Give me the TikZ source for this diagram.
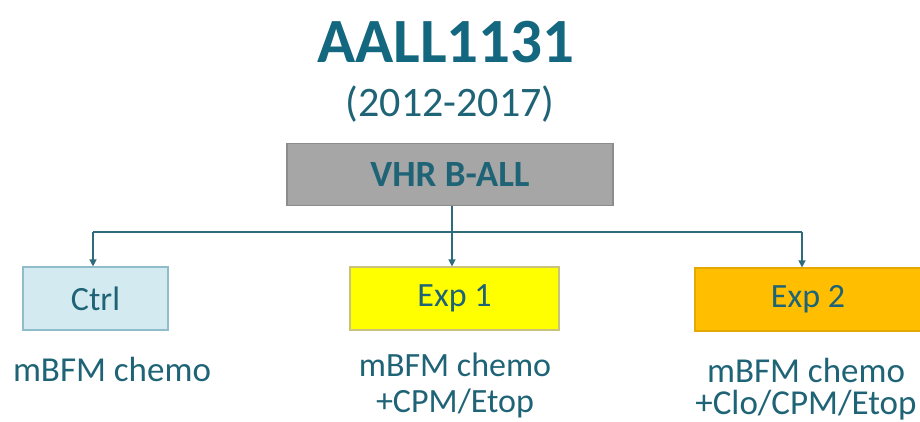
\documentclass[tikz,border=0pt]{standalone}
\usepackage{fontspec}
\setmainfont{Carlito}
\usetikzlibrary{arrows.meta}
\definecolor{tealtxt}{HTML}{1F6476}
\definecolor{titlecol}{HTML}{13677E}
\definecolor{linecol}{HTML}{2F6C7B}
\definecolor{ctrlfill}{HTML}{D4EAF1}
\definecolor{ctrlline}{HTML}{8FBDCC}
\definecolor{exponefill}{HTML}{FFFF00}
\definecolor{exponeline}{HTML}{C9C27A}
\definecolor{exptwofill}{HTML}{FFBF00}
\definecolor{exptwoline}{HTML}{E5A800}
\definecolor{rootfill}{HTML}{A6A6A6}
\definecolor{rootline}{HTML}{8C8C8C}
\tikzset{
  x=1pt, y=-1pt,
  armbox/.style={draw, line width=1.2pt, inner sep=0pt, text=tealtxt,
    font=\fontsize{34}{34}\selectfont},
  armnote/.style={text=tealtxt, align=center, inner sep=0pt,
    font=\fontsize{35}{36}\selectfont},
  link/.style={draw=linecol, line width=1.4pt},
  arrowlink/.style={link, -{Triangle[length=7pt,width=7pt]}}
}
\begin{document}
\begin{tikzpicture}
\useasboundingbox (0,0) rectangle (920,422);
\fill[white] (0,0) rectangle (920,422);

% heading
\node[text=titlecol, font=\fontsize{63}{63}\selectfont\bfseries] (title) at (446,42) {AALL1131};
\node[text=tealtxt, font=\fontsize{42}{42}\selectfont] (years) at (450,104) {(2012-2017)};

% root box
\node[armbox, draw=rootline, fill=rootfill, minimum width=326pt, minimum height=62pt,
  font=\fontsize{37}{37}\selectfont\bfseries] (root) at (450,174.5) {VHR B-ALL};

% arms
\node[armbox, draw=ctrlline, fill=ctrlfill, minimum width=145pt, minimum height=63pt] (ctrl) at (95.5,298.5) {Ctrl};
\node[armbox, draw=exponeline, fill=exponefill, minimum width=209pt, minimum height=63pt] (exp1) at (454.5,298.5) {Exp 1};
\node[armbox, draw=exptwoline, fill=exptwofill, minimum width=226pt, minimum height=63pt] (exp2) at (808,299.5) {Exp 2};

% notes below the arms
\node[armnote] (note0) at (112,369) {mBFM chemo};
\node[armnote, font=\fontsize{34}{36}\selectfont] (note1) at (455,385) {mBFM chemo\\+CPM/Etop};
\node[armnote, font=\fontsize{35}{32}\selectfont] (note2) at (806,389) {mBFM chemo\\+Clo/CPM/Etop};

% connectors
\coordinate (split) at (452,232);
\coordinate (leftend) at (93,232);
\coordinate (rightend) at (802,232);
\draw[link] (root.south -| split) -- (split);
\draw[link] (leftend) -- (rightend);
\draw[arrowlink] (leftend) -- (leftend |- ctrl.north);
\draw[arrowlink] (split) -- (split |- exp1.north);
\draw[arrowlink] (rightend) -- (rightend |- exp2.north);
\end{tikzpicture}
\end{document}
